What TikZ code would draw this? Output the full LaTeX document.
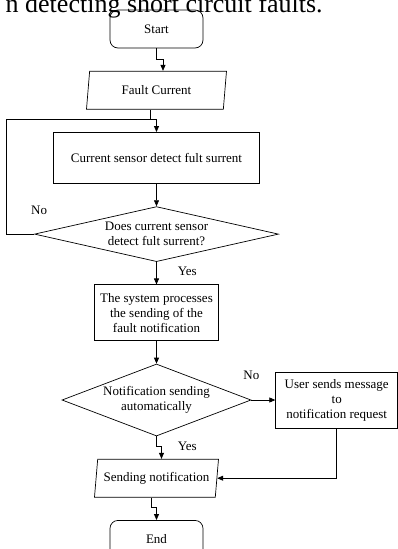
\documentclass[tikz,border=0pt]{standalone}
\usepackage{fontspec}
\setmainfont{Liberation Serif}
\usetikzlibrary{arrows.meta,positioning,shapes.geometric}

\begin{document}
\begin{tikzpicture}[font=\fontsize{13pt}{15pt}\selectfont, >={Triangle[length=6pt,width=5pt]},
    line width=0.7pt,
    node distance=22.5pt and 24pt,
    term/.style={draw, rounded corners=8pt, minimum width=93pt, minimum height=38pt},
    io/.style={draw, trapezium, trapezium stretches body, inner sep=0pt, minimum height=38pt, align=center},
    proc/.style={draw, align=center, inner sep=0pt},
    dec/.style={draw, diamond, inner sep=0pt, align=center},
    lbl/.style={inner sep=0pt}]

  % --- main column ---
  \node[term] (start) {Start};
  \useasboundingbox ([shift={(-156.5pt,29pt)}]start.center) rectangle ++(398pt,-549pt);
  \node[font=\fontsize{26pt}{30pt}\selectfont, inner sep=0pt, anchor=base east] (caption)
    at ([shift={(166.5pt,17pt)}]start.center) {n detecting short circuit faults.};
  \node[io, trapezium left angle=71, trapezium right angle=109, minimum width=140pt, below=of start] (input) {Fault Current};
  \node[proc, minimum width=206pt, minimum height=51pt, below=of input] (sense) {Current sensor detect fult surrent};
  \node[dec, aspect=4.4, minimum width=244pt, minimum height=55pt, below=of sense] (detect) {Does current sensor\\detect fult surrent?};
  \node[proc, minimum width=124pt, minimum height=56pt, below=of detect] (process) {The system processes\\the sending of the\\fault notification};
  \node[dec, aspect=2.6, minimum width=189pt, minimum height=72pt, below=of process] (auto) {Notification sending\\automatically};
  \node[proc, minimum width=122pt, minimum height=56pt, right=of auto] (request) {User sends message\\to\\notification request};
  \node[io, trapezium left angle=75, trapezium right angle=105, minimum width=124pt, below=of auto] (send) {Sending notification};
  \node[term, below=of send] (stop) {End};

  % --- labels ---
  \node[lbl, above=19pt of detect.west, xshift=5pt] (no1) {No};
  \node[lbl, above=20pt of auto.east] (no2) {No};

  % --- connectors ---
  \coordinate (merge) at ([xshift=-6.5pt,yshift=-10pt]input.south);
  \draw[->] (start.south) -- ++(0,-11pt) -| ([xshift=6.5pt]input.north);
  \draw[->] ([xshift=-6.5pt]input.south) -- (merge) -| (sense.north);
  \draw (detect.west) -- ++(-28pt,0) |- (merge);
  \draw[->] (sense) -- (detect);
  \draw[->] (detect) -- node[lbl, pos=0.4, right=21pt] {Yes} (process);
  \draw[->] (process) -- (auto);
  \draw[->] (auto) -- (request);
  \draw[->] (request.south) |- (send.east);
  \draw[->] (auto.south) -- ++(0,-10pt) node[lbl, right=21pt] {Yes} -| ([xshift=5pt]send.north);
  \draw[->] ([xshift=-5pt]send.south) -- ++(0,-10pt) -| (stop.north);
\end{tikzpicture}
\end{document}
